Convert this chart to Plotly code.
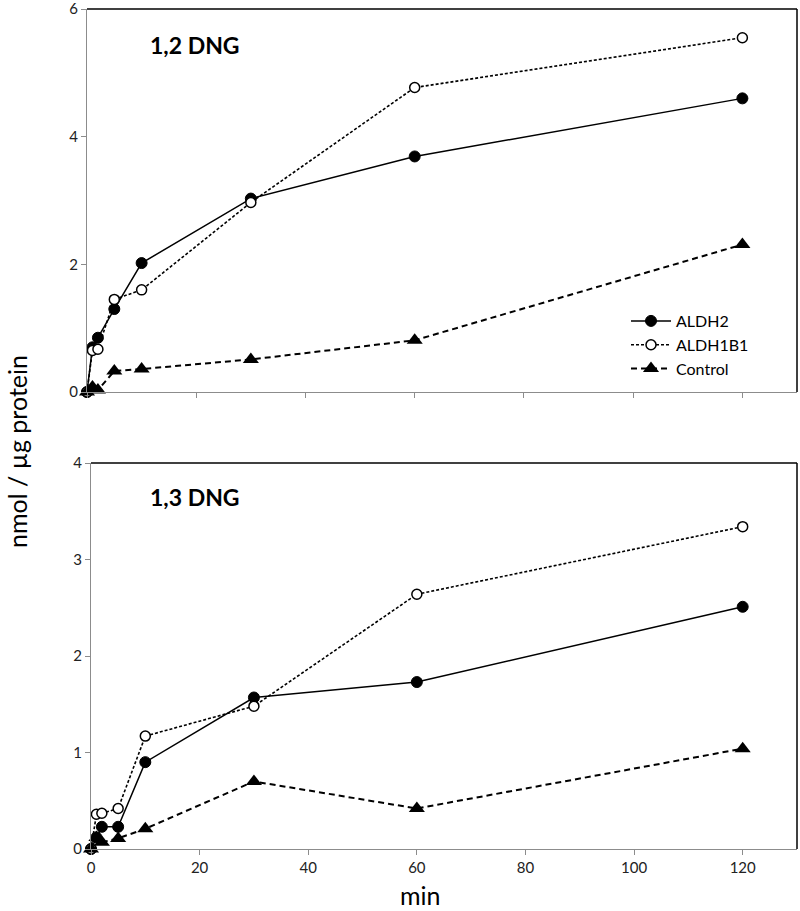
import plotly.graph_objects as go

# ---- data ----
time_min = [0, 1, 2, 5, 10, 30, 60, 120]

# 1,2 DNG panel
dng12_aldh2 = [0, 0.70, 0.85, 1.30, 2.02, 3.03, 3.69, 4.60]
dng12_aldh1b1 = [0, 0.65, 0.67, 1.45, 1.60, 2.97, 4.77, 5.55]
dng12_control = [0, 0.08, 0.03, 0.33, 0.36, 0.51, 0.81, 2.31]

# 1,3 DNG panel
dng13_aldh2 = [0, 0.12, 0.23, 0.23, 0.90, 1.57, 1.73, 2.51]
dng13_aldh1b1 = [0, 0.36, 0.37, 0.42, 1.17, 1.48, 2.64, 3.34]
dng13_control = [0, 0.12, 0.07, 0.11, 0.21, 0.70, 0.42, 1.04]

series_names = ["ALDH2", "ALDH1B1", "Control"]
panel_labels = ["1,2 DNG", "1,3 DNG"]
x_ticks = [0, 20, 40, 60, 80, 100, 120]

W, H = 800, 911
FONT = "Lato"

styles = {
    "ALDH2": dict(line=dict(color="black", width=1.5, dash="solid"),
                  marker=dict(symbol="circle", size=11, color="black",
                              line=dict(color="black", width=1))),
    "ALDH1B1": dict(line=dict(color="black", width=1.6, dash="3px,2px"),
                    marker=dict(symbol="circle", size=10, color="white",
                                line=dict(color="black", width=1.5))),
    "Control": dict(line=dict(color="black", width=2, dash="6px,4px"),
                    marker=dict(symbol="triangle-up", size=14, color="black",
                                line=dict(color="black", width=0))),
}

fig = go.Figure()
panels = [
    ("x", "y", [dng12_aldh2, dng12_aldh1b1, dng12_control], True),
    ("x2", "y2", [dng13_aldh2, dng13_aldh1b1, dng13_control], False),
]
for xa, ya, vals, show in panels:
    for name, v in zip(series_names, vals):
        st = styles[name]
        fig.add_trace(go.Scatter(
            x=time_min, y=v, name=name, mode="lines+markers",
            line=st["line"], marker=st["marker"], xaxis=xa, yaxis=ya,
            showlegend=show, cliponaxis=False,
        ))

def px_x(p):
    return p / W

def px_y(p):
    return 1 - p / H

top = dict(l=87, r=797, t=9, b=392)
bot = dict(l=91, r=797, t=463, b=849)

axis_common = dict(
    showgrid=False, zeroline=False, showline=True, linecolor="#8c8c8c",
    linewidth=1, ticks="outside", ticklen=5, tickcolor="#8c8c8c",
    automargin=False, ticklabeloverflow="allow",
    tickfont=dict(family=FONT, size=15, color="#222"),
)

fig.update_layout(
    template="none",
    width=W, height=H,
    margin=dict(l=0, r=0, t=0, b=0, autoexpand=False),
    paper_bgcolor="white", plot_bgcolor="white",
    font=dict(family=FONT, color="black"),
    xaxis=dict(domain=[px_x(top["l"]), px_x(top["r"])], range=[0, 130],
               tickvals=x_ticks, showticklabels=False, anchor="y", **axis_common),
    yaxis=dict(domain=[px_y(top["b"]), px_y(top["t"])], range=[0, 6],
               tickvals=[0, 2, 4, 6], anchor="x", **axis_common),
    xaxis2=dict(domain=[px_x(bot["l"]), px_x(bot["r"])], range=[0, 130],
                tickvals=x_ticks, anchor="y2", **axis_common),
    yaxis2=dict(domain=[px_y(bot["b"]), px_y(bot["t"])], range=[0, 4],
                tickvals=[0, 1, 2, 3, 4], anchor="x2", **axis_common),
    legend=dict(x=px_x(626), y=px_y(304), xanchor="left", yanchor="top",
                bgcolor="rgba(0,0,0,0)", font=dict(family=FONT, size=16, color="black"),
                tracegroupgap=0, itemwidth=40),
    showlegend=True,
)

# black top/right borders of each plot area
for p in (top, bot):
    fig.add_shape(type="line", xref="paper", yref="paper",
                  x0=px_x(p["l"]), x1=px_x(p["r"]), y0=px_y(p["t"]), y1=px_y(p["t"]),
                  line=dict(color="black", width=1.5))
    fig.add_shape(type="line", xref="paper", yref="paper",
                  x0=px_x(p["r"]), x1=px_x(p["r"]), y0=px_y(p["t"]), y1=px_y(p["b"]),
                  line=dict(color="black", width=1.5))

# panel labels
fig.add_annotation(text="<b>" + panel_labels[0] + "</b>", xref="paper", yref="paper",
                   x=px_x(148), y=px_y(45), xanchor="left", yanchor="middle",
                   showarrow=False, font=dict(family=FONT, size=23, color="black"))
fig.add_annotation(text="<b>" + panel_labels[1] + "</b>", xref="paper", yref="paper",
                   x=px_x(148), y=px_y(497), xanchor="left", yanchor="middle",
                   showarrow=False, font=dict(family=FONT, size=23, color="black"))

# axis titles
fig.add_annotation(text="nmol / µg protein", xref="paper", yref="paper",
                   x=px_x(17), y=px_y(452), xanchor="center", yanchor="middle",
                   textangle=-90, showarrow=False,
                   font=dict(family=FONT, size=25, color="black"))
fig.add_annotation(text="min", xref="paper", yref="paper",
                   x=px_x(420), y=px_y(895), xanchor="center", yanchor="middle",
                   showarrow=False, font=dict(family=FONT, size=25, color="black"))

fig.write_html("out.html",
               config={"displayModeBar": False},
               post_script="document.body.style.margin='0';document.body.style.overflow='hidden';")
